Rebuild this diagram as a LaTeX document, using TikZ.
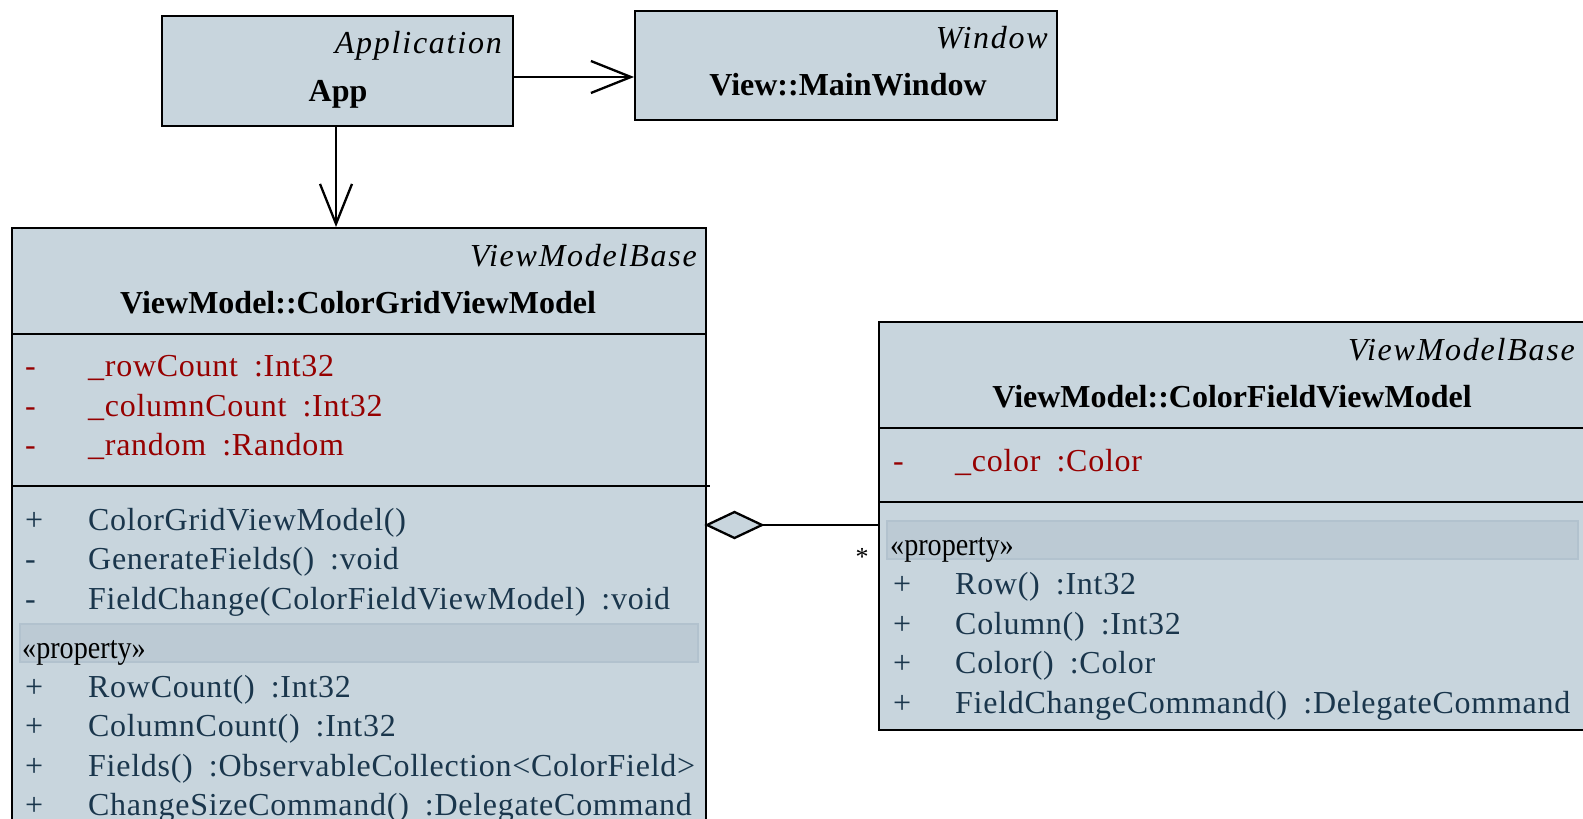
\documentclass[tikz,border=0pt]{standalone}
\usepackage{fontspec}
\setmainfont{Liberation Serif}
\newfontfamily\memfont{Liberation Serif}[LetterSpace=2.3]
\newfontfamily\supfont{Liberation Serif}[LetterSpace=5.5]
\newfontfamily\sterfont{Liberation Serif}[FakeStretch=0.88]
\usetikzlibrary{arrows.meta}
\definecolor{boxfill}{RGB}{200,213,221}
\definecolor{bandfill}{RGB}{188,202,212}
\definecolor{bandline}{RGB}{178,194,206}
\definecolor{memtext}{RGB}{26,54,76}
\definecolor{privtext}{RGB}{150,0,0}
\newcommand{\gapsp}{\hspace{0.5em}}
\begin{document}
\begin{tikzpicture}[x=1pt,y=-1pt,
  box/.style={draw=black, line width=2.3pt, fill=boxfill, rectangle, inner sep=0pt, anchor=north west},
  band/.style={draw=bandline, line width=1.5pt, fill=bandfill, rectangle, inner sep=0pt, anchor=north west},
  txt/.style={inner sep=0pt, font=\fontsize{32}{38}\memfont},
  supcls/.style={inner sep=0pt, font=\fontsize{32}{38}\supfont\itshape, anchor=base east},
  cls/.style={inner sep=0pt, font=\fontsize{32}{38}\selectfont\bfseries, anchor=base},
  priv/.style={txt, text=privtext, anchor=base west},
  memb/.style={txt, text=memtext, anchor=base west},
  ster/.style={inner sep=0pt, font=\fontsize{32}{38}\sterfont, text=black, anchor=base west},
  sepline/.style={line width=2.3pt, draw=black},
  arr/.style={line width=2.3pt, -{Straight Barb[length=40pt, width=32pt, line width=2.3pt]}},
]
\useasboundingbox (0,0) rectangle (1583,819);
\clip (0,0) rectangle (1583,819);

% App
\node[box, minimum width=351.5pt, minimum height=110pt] (app) at (160.5,15) {};
\node[supcls] (appsup) at (502,53) {Application};
\node[cls] (appname) at (338,101) {App};

% Window
\node[box, minimum width=422pt, minimum height=109pt] (win) at (634,10) {};
\node[supcls] (winsup) at (1048,48) {Window};
\node[cls] (winname) at (848,95) {View::MainWindow};

% ColorGridViewModel
\node[box, minimum width=694pt, minimum height=620pt] (grid) at (11,227) {};
\node[supcls] (gridsup) at (697,266.5) {ViewModelBase};
\node[cls] (gridname) at (358,313) {ViewModel::ColorGridViewModel};
\draw[sepline] (grid.west |- 0,334) -- (grid.east |- 0,334);
\draw[sepline] (grid.west |- 0,486) -- (710,486);
\node[priv] (ga1s) at (25,376.5) {-};
\node[priv] (ga1) at (88,376.5) {\_rowCount\gapsp:Int32};
\node[priv] (ga2s) at (25,416) {-};
\node[priv] (ga2) at (88,416) {\_columnCount\gapsp:Int32};
\node[priv] (ga3s) at (25,455.5) {-};
\node[priv] (ga3) at (88,455.5) {\_random\gapsp:Random};
\node[memb] (gm1s) at (25,530) {+};
\node[memb] (gm1) at (88,530) {ColorGridViewModel()};
\node[memb] (gm2s) at (25,569.5) {-};
\node[memb] (gm2) at (88,569.5) {GenerateFields()\gapsp:void};
\node[memb] (gm3s) at (25,609) {-};
\node[memb] (gm3) at (88,609) {FieldChange(ColorFieldViewModel)\gapsp:void};
\node[band, minimum width=678pt, minimum height=38pt] (gband) at (19,623) {};
\node[ster] (gster) at (22,658) {«property»};
\node[memb] (gp1s) at (25,697) {+};
\node[memb] (gp1) at (88,697) {RowCount()\gapsp:Int32};
\node[memb] (gp2s) at (25,736.5) {+};
\node[memb] (gp2) at (88,736.5) {ColumnCount()\gapsp:Int32};
\node[memb] (gp3s) at (25,776) {+};
\node[memb] (gp3) at (88,776) {Fields()\gapsp:ObservableCollection<ColorField>};
\node[memb] (gp4s) at (25,815.5) {+};
\node[memb] (gp4) at (88,815.5) {ChangeSizeCommand()\gapsp:DelegateCommand};

% ColorFieldViewModel
\node[box, minimum width=740pt, minimum height=408pt] (field) at (878,321) {};
\node[supcls] (fieldsup) at (1575,360) {ViewModelBase};
\node[cls] (fieldname) at (1232,407) {ViewModel::ColorFieldViewModel};
\draw[sepline] (field.west |- 0,428) -- (field.east |- 0,428);
\draw[sepline] (field.west |- 0,502) -- (field.east |- 0,502);
\node[priv] (fa1s) at (893,471.5) {-};
\node[priv] (fa1) at (955,471.5) {\_color\gapsp:Color};
\node[band, minimum width=691pt, minimum height=38pt] (fband) at (886,520) {};
\node[ster] (fster) at (890,555) {«property»};
\node[memb] (fp1s) at (893,594.5) {+};
\node[memb] (fp1) at (955,594.5) {Row()\gapsp:Int32};
\node[memb] (fp2s) at (893,634) {+};
\node[memb] (fp2) at (955,634) {Column()\gapsp:Int32};
\node[memb] (fp3s) at (893,673.5) {+};
\node[memb] (fp3) at (955,673.5) {Color()\gapsp:Color};
\node[memb] (fp4s) at (893,713) {+};
\node[memb] (fp4) at (955,713) {FieldChangeCommand()\gapsp:DelegateCommand};

% connectors
\draw[arr] (app.east |- 0,77) -- (win.west |- 0,77);
\draw[arr] (app.south -| 336,0) -- (grid.north -| 336,0);
\coordinate (dtip) at (707,525);
\coordinate (dend) at (762,525);
\draw[line width=2.3pt, fill=boxfill, line join=miter] (dtip) -- (734.5,512) -- (dend) -- (734.5,538) -- cycle;
\draw[line width=2.3pt] (dend) -- (field.west |- dend);
\node[inner sep=0pt, font=\fontsize{26}{30}\selectfont] (mult) at (862,557) {*};
\end{tikzpicture}
\end{document}
